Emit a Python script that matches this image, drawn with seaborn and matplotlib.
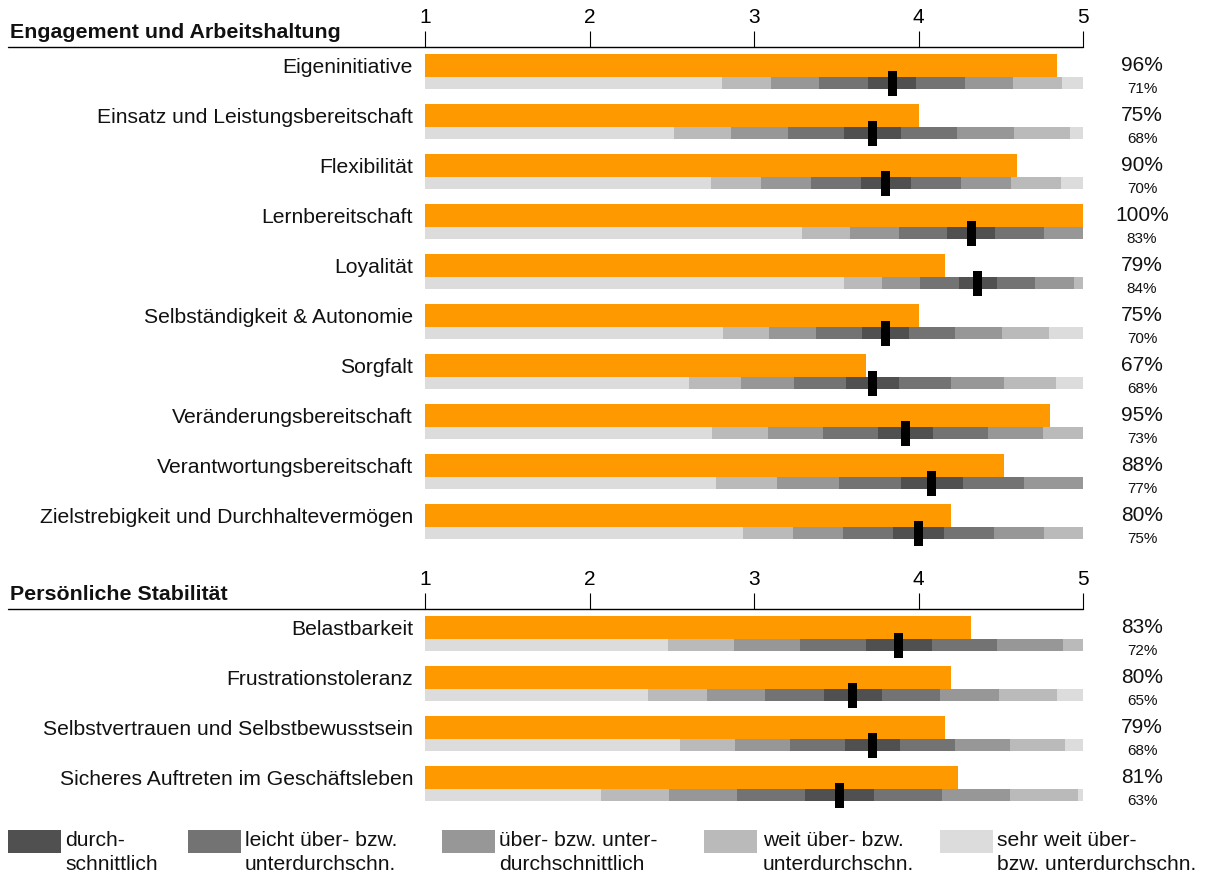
import numpy as np
import pandas as pd
import matplotlib
matplotlib.use("Agg")
import matplotlib.pyplot as plt
from matplotlib.patches import Rectangle
from matplotlib.lines import Line2D
import seaborn as sns

# ---------------------------------------------------------------- data
section_titles = ["Engagement und Arbeitshaltung", "Persönliche Stabilität"]

items_engagement = [
    "Eigeninitiative",
    "Einsatz und Leistungsbereitschaft",
    "Flexibilität",
    "Lernbereitschaft",
    "Loyalität",
    "Selbständigkeit & Autonomie",
    "Sorgfalt",
    "Veränderungsbereitschaft",
    "Verantwortungsbereitschaft",
    "Zielstrebigkeit und Durchhaltevermögen",
]
self_pct_engagement = [96, 75, 90, 100, 79, 75, 67, 95, 88, 80]
norm_pct_engagement = [71, 68, 70, 83, 84, 70, 68, 73, 77, 75]
spread_engagement = [0.295, 0.344, 0.304, 0.294, 0.233, 0.283, 0.319, 0.335, 0.375, 0.304]

items_stability = [
    "Belastbarkeit",
    "Frustrationstoleranz",
    "Selbstvertrauen und Selbstbewusstsein",
    "Sicheres Auftreten im Geschäftsleben",
]
self_pct_stability = [83, 80, 79, 81]
norm_pct_stability = [72, 65, 68, 63]
spread_stability = [0.40, 0.355, 0.335, 0.415]

scale_ticks = [1, 2, 3, 4, 5]

band_colors = ["#505050", "#737373", "#979797", "#BABABA", "#DCDCDC"]
band_labels = [
    "durch-\nschnittlich",
    "leicht über- bzw.\nunterdurchschn.",
    "über- bzw. unter-\ndurchschnittlich",
    "weit über- bzw.\nunterdurchschn.",
    "sehr weit über-\nbzw. unterdurchschn.",
]

ORANGE = "#FF9900"

# ---------------------------------------------------------------- style
sns.set_theme(style="white")
plt.rcParams["font.family"] = ["Liberation Sans", "DejaVu Sans"]

W, H = 1208, 875
fig = plt.figure(figsize=(W / 100, H / 100), dpi=100)


def fx(px):
    return px / W


def fy(py):
    return 1 - py / H


X_LEFT, X_RIGHT = 425, 1083          # pixel span of the 1..5 scale
ROW_PX = 50                           # row pitch in pixels


def to_score(pct):
    return 1 + 4 * np.asarray(pct, dtype=float) / 100.0


def draw_section(title, items, self_pct, norm_pct, spread, line_y):
    n = len(items)
    top_px = line_y
    bottom_px = line_y + ROW_PX * n
    ax = fig.add_axes([fx(X_LEFT), fy(bottom_px),
                       fx(X_RIGHT) - fx(X_LEFT), (bottom_px - top_px) / H])

    df = pd.DataFrame({"item": items, "score": to_score(self_pct)})
    sns.barplot(data=df, x="score", y="item", orient="h", color=ORANGE,
                saturation=1, width=0.46, linewidth=0, ax=ax)

    centers = to_score(norm_pct)
    for i, (c, w) in enumerate(zip(centers, spread)):
        y = i + 0.35
        # lightest band across the whole scale, then narrower darker bands
        ax.barh(y, 4, left=1, height=0.24, color=band_colors[4], linewidth=0)
        for k in (3, 2, 1, 0):
            lo = max(1.0, c - (k + 0.5) * w)
            hi = min(5.0, c + (k + 0.5) * w)
            ax.barh(y, hi - lo, left=lo, height=0.24,
                    color=band_colors[k], linewidth=0)
        # group average marker
        ax.barh(i + 0.36, 0.055, left=c - 0.0275, height=0.5,
                color="black", linewidth=0)

    for i, (p, q) in enumerate(zip(self_pct, norm_pct)):
        ax.text(5.359, i, f"{p}%", ha="center", va="center",
                fontsize=15, color="#111111", clip_on=False)
        ax.text(5.359, i + 0.47, f"{q}%", ha="center", va="center",
                fontsize=11, color="#111111", clip_on=False)

    ax.set_xlim(1, 5)
    ax.set_ylim(n - 0.37, -0.37)
    ax.xaxis.tick_top()
    ax.set_xticks(scale_ticks)
    ax.set_xticklabels([str(t) for t in scale_ticks])
    ax.tick_params(axis="x", length=11.5, width=0.8, pad=2.9, labelsize=15,
                   direction="out", colors="black", top=True, bottom=False)
    ax.tick_params(axis="y", length=0, pad=8.6, labelsize=15.2, labelcolor="#111111")
    ax.set_xlabel("")
    ax.set_ylabel("")
    for s in ax.spines.values():
        s.set_visible(False)
    ax.grid(False)
    ax.set_facecolor("none")

    # section rule and heading
    fig.add_artist(Line2D([fx(8), fx(X_RIGHT)], [fy(line_y), fy(line_y)],
                          color="black", lw=1.0))
    fig.text(fx(10), fy(line_y - 9), title, fontsize=15.4, fontweight="bold",
             ha="left", va="baseline", color="#111111")
    return ax


draw_section(section_titles[0], items_engagement, self_pct_engagement,
             norm_pct_engagement, spread_engagement, line_y=47)
draw_section(section_titles[1], items_stability, self_pct_stability,
             norm_pct_stability, spread_stability, line_y=609)

# ---------------------------------------------------------------- legend
box_x = [8, 188, 442, 704, 940]
text_x = [65, 245, 499, 763, 997]
for bx, tx, col, lab in zip(box_x, text_x, band_colors, band_labels):
    fig.add_artist(Rectangle((fx(bx), fy(853)), 53 / W, 23 / H,
                             transform=fig.transFigure, color=col, lw=0))
    for j, line in enumerate(lab.split("\n")):
        fig.text(fx(tx), fy(846 + 24 * j), line, fontsize=15.2,
                 ha="left", va="baseline", color="#111111")

fig.savefig("out.png", dpi=100)
